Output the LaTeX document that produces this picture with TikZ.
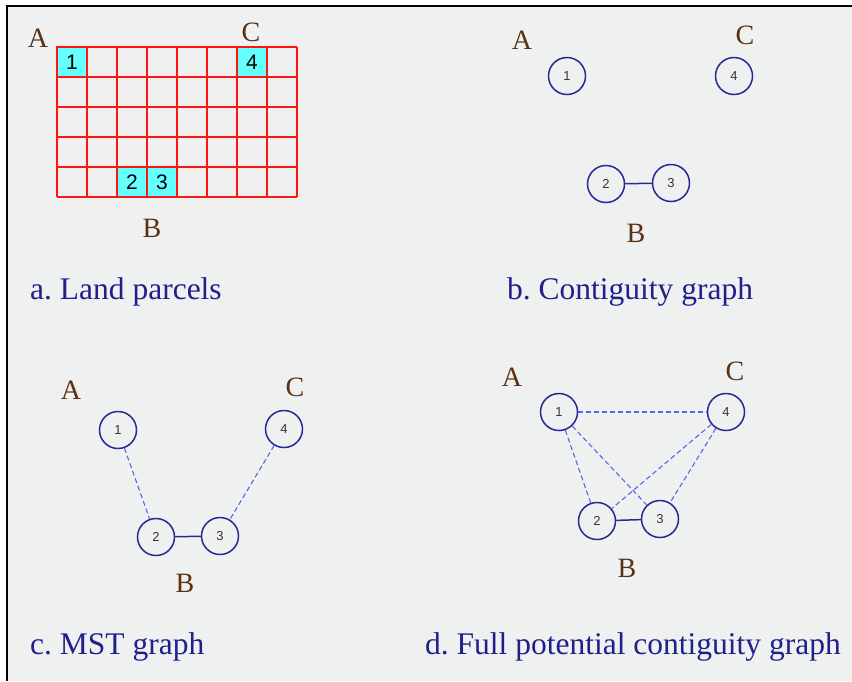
\documentclass[tikz,border=0pt]{standalone}
\usepackage{fontspec}
\setmainfont{Liberation Serif}
\setsansfont{Liberation Sans}
\usetikzlibrary{positioning}
\definecolor{panelgray}{RGB}{238,241,240}
\definecolor{captionblue}{RGB}{32,32,140}
\definecolor{regionbrown}{RGB}{92,48,18}
\definecolor{nodeblue}{RGB}{40,40,150}
\definecolor{linkblue}{RGB}{85,105,230}
\definecolor{gridred}{RGB}{255,20,20}
\definecolor{parcelcyan}{RGB}{100,255,255}
\frenchspacing

\begin{document}
\begin{tikzpicture}[x=1pt, y=-1pt,
    parcel/.style={circle, draw=nodeblue, line width=1.5pt, minimum size=37pt, inner sep=0pt, font=\sffamily\fontsize{13}{13}\selectfont, text=black!80},
    cell/.style={rectangle, fill=parcelcyan, draw=gridred, line width=1.1pt, minimum size=30pt, inner sep=0pt, font=\sffamily\fontsize{21}{21}\selectfont},
    gridline/.style={draw=gridred, line width=1.1pt},
    region/.style={inner sep=0pt, text=regionbrown, font=\fontsize{28}{28}\selectfont},
    caption/.style={anchor=west, inner sep=0pt, text=captionblue, font=\fontsize{31.5}{31.5}\selectfont},
    adjacent/.style={draw=nodeblue, line width=1.5pt},
    potential/.style={draw=linkblue, line width=1.1pt, dash pattern=on 5pt off 3pt}
]
    \useasboundingbox (0,0) rectangle (852,681);
    % Background and frame
    \fill[panelgray] (7,6) rectangle (852,681);
    \draw[line width=1.8pt] (7,681) -- (7,6) -- (852,6);

    % a. Land parcels
    \foreach \c/\r/\n in {0/0/1, 6/0/4, 2/4/2, 3/4/3} {
        \node[cell] (g\n) at ({72+30*\c},{62+30*\r}) {\n};
    }
    \foreach \i in {0,...,8} {
        \draw[gridline] ({57+30*\i},47) -- ({57+30*\i},197);
    }
    \foreach \j in {0,...,5} {
        \draw[gridline] (57,{47+30*\j}) -- (297,{47+30*\j});
    }
    \node[region] (aA) at (38,38) {A};
    \node[region] (aC) at (251,32) {C};
    \node[region] (aB) at (152,228) {B};
    \node[caption] (capa) at (30,292) {a. Land parcels};

    % b. Contiguity graph
    \node[parcel] (b1) at (567,76) {1};
    \node[parcel] (b4) at (734,76) {4};
    \node[parcel] (b2) at (606,184) {2};
    \node[parcel] (b3) at (671,183) {3};
    \draw[adjacent] (b2) -- (b3);
    \node[region] (bA) at (522,40) {A};
    \node[region] (bC) at (745,35) {C};
    \node[region] (bB) at (636,233) {B};
    \node[caption] (capb) at (507,292) {b. Contiguity graph};

    % c. MST graph
    \node[parcel] (c1) at (118,430) {1};
    \node[parcel] (c4) at (284,429) {4};
    \node[parcel] (c2) at (156,537) {2};
    \node[parcel] (c3) at (220,536) {3};
    \draw[adjacent] (c2) -- (c3);
    \foreach \a/\b in {c1/c2, c4/c3} {
        \draw[potential] (\a) -- (\b);
    }
    \node[region] (cA) at (71,390) {A};
    \node[region] (cC) at (295,387) {C};
    \node[region] (cB) at (185,583) {B};
    \node[caption] (capc) at (30,647) {c. MST graph};

    % d. Full potential contiguity graph
    \node[parcel] (d1) at (559,412) {1};
    \node[parcel] (d4) at (726,412) {4};
    \node[parcel] (d2) at (597,521) {2};
    \node[parcel] (d3) at (660,519) {3};
    \draw[adjacent] (d2) -- (d3);
    \foreach \a/\b in {d1/d4, d1/d2, d1/d3, d4/d2, d4/d3} {
        \draw[potential] (\a) -- (\b);
    }
    \node[region] (dA) at (512,377) {A};
    \node[region] (dC) at (735,371) {C};
    \node[region] (dB) at (627,568) {B};
    \node[caption] (capd) at (425,647) {d. Full potential contiguity graph};
\end{tikzpicture}
\end{document}
